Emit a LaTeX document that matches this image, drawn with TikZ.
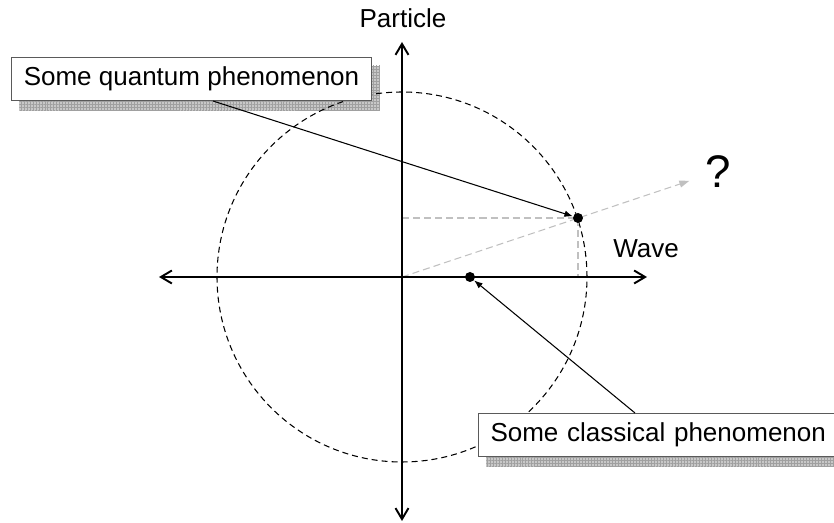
\documentclass[tikz,border=0pt]{standalone}
\usepackage{fontspec}
\setmainfont{Liberation Sans}
\usetikzlibrary{
    arrows.meta,
    positioning,
    calc,
    backgrounds,
    patterns.meta
}
\definecolor{BoxGray}{RGB}{90,90,90}
\definecolor{ShadowGray}{RGB}{200,200,200}
\definecolor{GridGray}{RGB}{160,160,160}
\definecolor{GuideGray}{RGB}{192,192,192}
\newcommand{\lblfont}{\fontsize{14.8}{17}\selectfont}
\tikzset{
  axis/.style    = {{Straight Barb[length=2.2mm, width=2.6mm]}-{Straight Barb[length=2.2mm, width=2.6mm]},
                    line width=1.1pt},
  ring/.style    = {dash pattern=on 3.4pt off 2.3pt, line width=0.6pt},
  guide/.style   = {GuideGray, dash pattern=on 4pt off 2.3pt, line width=0.6pt},
  callout/.style = {draw=BoxGray, fill=white, line width=0.6pt, inner xsep=0.24cm,
                    minimum height=0.86cm, font=\lblfont},
  lbl/.style     = {inner sep=0pt, font=\lblfont},
  dot/.style     = {circle, fill=black, inner sep=0pt, minimum size=0.2cm},
  ptr/.style     = {-{Latex[length=1.7mm, width=1.3mm]}, line width=0.6pt},
  shade/.style   = {fill=ShadowGray, postaction={pattern={Hatch[distance=1.7pt, line width=0.35pt]},
                    pattern color=GridGray}}
}

\begin{document}
\begin{tikzpicture}
\useasboundingbox (-8.04,-4.92) rectangle (8.64,5.54);
% axes and circle
\coordinate (o) at (0,0);
\coordinate (west) at (-4.86,0);
\coordinate (east) at (4.9,0);
\coordinate (north) at (0,4.7);
\coordinate (south) at (0,-4.88);
\draw[ring] (o) circle (3.7);
\coordinate (qend) at (18.5:6.06);
\coordinate (qx) at (0,1.18);
\coordinate (qy) at (3.52,0);
\draw[guide] (qx) -- (3.52,1.18) -- (qy);
\draw[guide, -{Triangle[length=2mm, width=1.4mm]}] (o) -- (qend);
\draw[axis] (west) -- (east);
\draw[axis] (south) -- (north);
\node[lbl, anchor=base] (particle) at (0.02,4.98) {Particle};
\node[lbl, anchor=base west] (wave) at (4.22,0.38) {Wave};
\node[anchor=base, inner sep=0pt, font=\fontsize{26}{30}\selectfont] (qmark) at (6.33,1.78) {?};
% phenomena
\node[dot] (qdot) at (3.52,1.18) {};
\node[dot] (cdot) at (1.36,0) {};
\node[callout] (qbox) at (-4.21,3.96) {Some quantum phenomenon};
\node[callout, anchor=north west, text width=6.9cm, align=left] (cbox) at (1.52,-2.72) {Some classical phenomenon};
\begin{scope}[on background layer]
\fill[shade] ($(qbox.south west)+(0.16,-0.18)$) rectangle ($(qbox.north east)+(0.16,-0.18)$);
\fill[shade] ($(cbox.south west)+(0.17,-0.18)$) rectangle ($(cbox.north east)+(0.17,-0.18)$);
\end{scope}
\draw[ptr] ([xshift=0.43cm]qbox.south) -- (qdot);
\draw[ptr] ([xshift=3.14cm]cbox.north west) -- (cdot);
\end{tikzpicture}
\end{document}
